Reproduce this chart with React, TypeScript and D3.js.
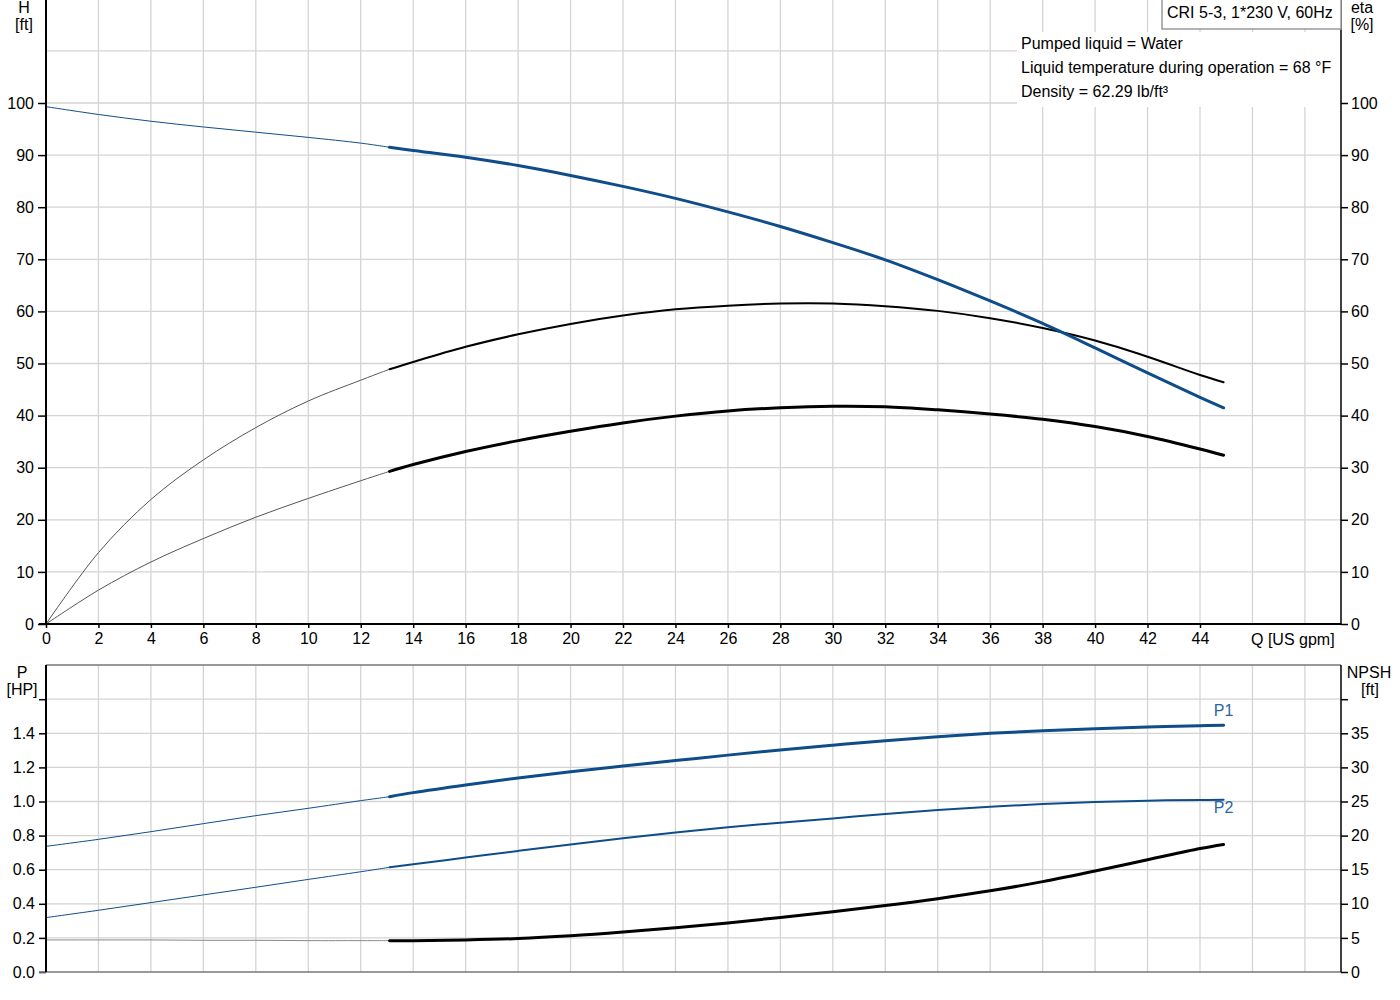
import { useEffect, useRef } from 'react';
import * as d3 from 'd3';

// flow rates (US gpm): thin part outside the duty range, thick part inside it
const qThin = [0, 2, 4, 6, 8, 10, 12, 13.1];
const qDuty = [13.1, 14, 16, 18, 20, 22, 24, 26, 28, 30, 32, 34, 36, 38, 40, 42, 44, 44.9];

// head H [ft]
const headThin = [99.3, 97.8, 96.5, 95.4, 94.4, 93.4, 92.3, 91.5];
const headDuty = [91.5, 90.9, 89.6, 88.0, 86.1, 84.0, 81.7, 79.1, 76.3, 73.2, 69.9, 66.1, 62.0, 57.7, 53.0, 48.2, 43.5, 41.5];

// pump efficiency eta [%]
const etaThin = [0, 13.7, 23.9, 31.5, 37.7, 42.8, 46.8, 48.9];
const etaDuty = [48.9, 50.3, 53.2, 55.6, 57.6, 59.2, 60.4, 61.1, 61.5, 61.5, 61.0, 60.1, 58.7, 56.8, 54.4, 51.3, 47.8, 46.4];

// total efficiency eta [%]
const etaTotThin = [0, 6.5, 11.9, 16.4, 20.5, 24.1, 27.5, 29.3];
const etaTotDuty = [29.3, 30.6, 33.1, 35.2, 37.0, 38.6, 39.9, 40.9, 41.5, 41.8, 41.7, 41.1, 40.3, 39.3, 37.9, 36.0, 33.6, 32.4];

// power P1 / P2 [HP]
const p1Thin = [0.737, 0.778, 0.823, 0.87, 0.917, 0.96, 1.005, 1.028];
const p1Duty = [1.028, 1.052, 1.097, 1.138, 1.175, 1.208, 1.24, 1.272, 1.302, 1.33, 1.357, 1.38, 1.4, 1.415, 1.427, 1.437, 1.445, 1.447];
const p2Thin = [0.319, 0.362, 0.407, 0.452, 0.497, 0.543, 0.588, 0.614];
const p2Duty = [0.614, 0.632, 0.671, 0.71, 0.748, 0.784, 0.818, 0.849, 0.876, 0.901, 0.927, 0.95, 0.969, 0.985, 0.997, 1.005, 1.009, 1.01];

// NPSH [ft]
const npshThin = [4.7, 4.7, 4.7, 4.65, 4.65, 4.6, 4.6, 4.6];
const npshDuty = [4.6, 4.6, 4.7, 4.9, 5.3, 5.85, 6.5, 7.2, 8.0, 8.85, 9.75, 10.75, 11.9, 13.25, 14.8, 16.45, 18.1, 18.7];

const qTicks = d3.range(0, 45, 2);
const qGrid = d3.range(2, 49, 2);
const headTicks = d3.range(0, 101, 10);
const headGrid = d3.range(10, 111, 10);
const pTicks = [0, 0.2, 0.4, 0.6, 0.8, 1.0, 1.2, 1.4];
const pGrid = [0.2, 0.4, 0.6, 0.8, 1.0, 1.2, 1.4, 1.6];
const npshTicks = [0, 5, 10, 15, 20, 25, 30, 35];

const title = 'CRI 5-3, 1*230 V, 60Hz';
const infoLines = [
  'Pumped liquid = Water',
  'Liquid temperature during operation = 68 °F',
  'Density = 62.29 lb/ft³',
];

const FONT = "'Liberation Sans', Arial, sans-serif";
const FS = 16;
const BLUE = '#0f4d8a';

const App = () => {
  const ref = useRef<SVGSVGElement>(null);

  useEffect(() => {
    const svg = d3.select(ref.current);
    svg.selectAll('*').remove();
    svg.attr('font-family', FONT).attr('font-size', FS);

    const left = 46, right = 1341;
    const x = d3.scaleLinear().domain([0, 44]).range([46, 1200]);
    const yH = d3.scaleLinear().domain([0, 100]).range([624, 103]);
    const yP = d3.scaleLinear().domain([0, 1.4]).range([972, 733.3]);
    const yN = d3.scaleLinear().domain([0, 35]).range([972, 733.3]);

    const grid = svg.append('g').attr('stroke', '#d4d4d4').attr('stroke-width', 1.3);
    // top grid
    grid.selectAll('.vt').data(qGrid).enter().append('line')
      .attr('x1', d => x(d)).attr('x2', d => x(d)).attr('y1', 0).attr('y2', 624);
    grid.selectAll('.ht').data(headGrid).enter().append('line')
      .attr('x1', left).attr('x2', right).attr('y1', d => yH(d)).attr('y2', d => yH(d));
    // bottom grid
    grid.selectAll('.vb').data(qGrid).enter().append('line')
      .attr('x1', d => x(d)).attr('x2', d => x(d)).attr('y1', 665).attr('y2', 972);
    grid.selectAll('.hb').data(pGrid).enter().append('line')
      .attr('x1', left).attr('x2', right).attr('y1', d => yP(d)).attr('y2', d => yP(d));

    // white area behind info text
    svg.append('rect').attr('x', 1017).attr('y', 32).attr('width', right - 1017).attr('height', 75).attr('fill', '#fff');

    const line = (ys: d3.ScaleLinear<number, number>) =>
      d3.line<[number, number]>().x(d => x(d[0])).y(d => ys(d[1])).curve(d3.curveCatmullRom.alpha(0.5));
    const pairs = (q: number[], v: number[]) => q.map((d, i) => [d, v[i]] as [number, number]);

    const draw = (q: number[], v: number[], ys: d3.ScaleLinear<number, number>, color: string, w: number) => {
      svg.append('path').attr('fill', 'none').attr('stroke', color).attr('stroke-width', w)
        .attr('stroke-linecap', 'round')
        .attr('d', line(ys)(pairs(q, v)));
    };

    // top curves
    draw(qThin, headThin, yH, BLUE, 1);
    draw(qThin, etaThin, yH, '#555', 1);
    draw(qThin, etaTotThin, yH, '#555', 1);
    draw(qDuty, etaDuty, yH, '#000', 2);
    draw(qDuty, etaTotDuty, yH, '#000', 3);
    draw(qDuty, headDuty, yH, BLUE, 3);

    // bottom curves
    draw(qThin, p1Thin, yP, BLUE, 1);
    draw(qThin, p2Thin, yP, BLUE, 1);
    draw(qThin, npshThin, yN, '#888', 1);
    draw(qDuty, p1Duty, yP, BLUE, 3);
    draw(qDuty, p2Duty, yP, BLUE, 2);
    draw(qDuty, npshDuty, yN, '#000', 3);

    // axes
    const styleAxis = (g: d3.Selection<SVGGElement, unknown, null, undefined>) => {
      g.attr('font-family', FONT).attr('font-size', FS);
      g.select('.domain').remove();
      g.selectAll('line').attr('stroke', '#000').attr('stroke-width', 1.5);
      g.selectAll('text').attr('fill', '#000');
    };

    svg.append('g').attr('transform', `translate(${left},0)`)
      .call(d3.axisLeft(yH).tickValues(headTicks).tickSize(8).tickPadding(4)).call(styleAxis);
    svg.append('g').attr('transform', `translate(${right},0)`)
      .call(d3.axisRight(yH).tickValues(headTicks).tickSize(7).tickPadding(3)).call(styleAxis);
    svg.append('g').attr('transform', 'translate(0,624)')
      .call(d3.axisBottom(x).tickValues(qTicks).tickSize(4).tickPadding(5)).call(styleAxis);

    svg.append('g').attr('transform', `translate(${left},0)`)
      .call(d3.axisLeft(yP).tickValues([...pTicks, 1.6]).tickSize(7).tickPadding(4)
        .tickFormat(d => (+d > 1.5 ? '' : d3.format('.1f')(+d)))).call(styleAxis);
    svg.append('g').attr('transform', `translate(${right},0)`)
      .call(d3.axisRight(yN).tickValues([...npshTicks, 40]).tickSize(7).tickPadding(3)
        .tickFormat(d => (+d > 37 ? '' : String(d)))).call(styleAxis);

    // frame lines
    const frame = svg.append('g').attr('fill', 'none');
    frame.append('line').attr('x1', left).attr('x2', left).attr('y1', 0).attr('y2', 624).attr('stroke', '#000').attr('stroke-width', 2);
    frame.append('line').attr('x1', right).attr('x2', right).attr('y1', 0).attr('y2', 624).attr('stroke', '#000').attr('stroke-width', 1.5);
    frame.append('line').attr('x1', 39).attr('x2', right).attr('y1', 624).attr('y2', 624).attr('stroke', '#000').attr('stroke-width', 2);
    frame.append('line').attr('x1', left).attr('x2', right).attr('y1', 665).attr('y2', 665).attr('stroke', '#777').attr('stroke-width', 1.5);
    frame.append('line').attr('x1', 39).attr('x2', right).attr('y1', 972).attr('y2', 972).attr('stroke', '#777').attr('stroke-width', 1.5);
    frame.append('line').attr('x1', left).attr('x2', left).attr('y1', 665).attr('y2', 972).attr('stroke', '#000').attr('stroke-width', 2);
    frame.append('line').attr('x1', right).attr('x2', right).attr('y1', 665).attr('y2', 972).attr('stroke', '#000').attr('stroke-width', 1.5);

    // axis titles
    const label = (t: string, lx: number, ly: number, anchor = 'middle', fill = '#000') =>
      svg.append('text').attr('x', lx).attr('y', ly).attr('text-anchor', anchor).attr('fill', fill).text(t);
    label('H', 24, 13);
    label('[ft]', 24, 30);
    label('eta', 1362, 13);
    label('[%]', 1362, 30);
    label('P', 22, 678);
    label('[HP]', 22, 695);
    label('NPSH', 1369, 678);
    label('[ft]', 1370, 695);
    label('Q [US gpm]', 1251, 645, 'start');
    label('P1', x(44.9), 716, 'middle', '#2a66a3');
    label('P2', x(44.9), 813, 'middle', '#2a66a3');

    // title box + info
    svg.append('rect').attr('x', 1162).attr('y', -1).attr('width', right - 1162).attr('height', 30)
      .attr('fill', '#fff').attr('stroke', '#999').attr('stroke-width', 1.5);
    label(title, 1167, 18, 'start');
    infoLines.forEach((t, i) => label(t, 1021, 49 + i * 24, 'start'));
  }, []);

  return (
    <svg ref={ref} width={1400} height={1000}
      style={{ position: 'absolute', left: 0, top: 0, background: '#fff' }} />
  );
};

export default App;
